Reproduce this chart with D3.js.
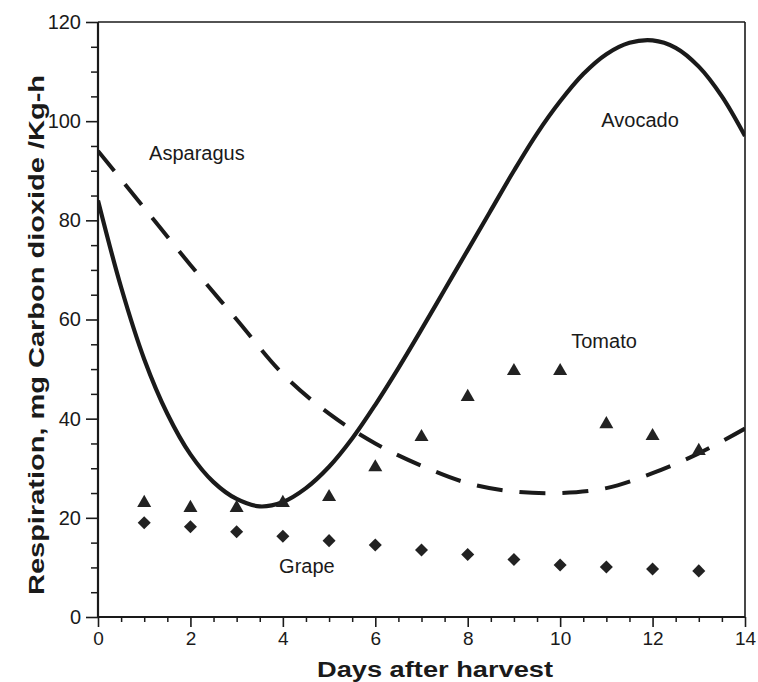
<!DOCTYPE html>
<html>
<head>
<meta charset="utf-8">
<script src="https://cdn.jsdelivr.net/npm/d3@7"></script>
<style>
  html, body { margin: 0; padding: 0; background: #fff; }
  svg { display: block; }
  text { font-family: "Liberation Sans", Arial, Helvetica, sans-serif; fill: #1a1a1a; }
</style>
</head>
<body>
<svg id="chart" width="758" height="682"></svg>
<script>
// ---- data ----
const days = [1, 2, 3, 4, 5, 6, 7, 8, 9, 10, 11, 12, 13];
const tomato = [23, 22, 22, 23, 24.2, 30.2, 36.3, 44.4, 49.6, 49.6, 38.9, 36.5, 33.5];
const grape = [19, 18.2, 17.2, 16.3, 15.4, 14.5, 13.5, 12.6, 11.6, 10.5, 10.1, 9.7, 9.3];

const avocadoDays = [0, 0.5, 1, 1.5, 2, 2.5, 3, 3.5, 4, 4.5, 5, 5.5, 6, 6.5, 7, 7.5, 8, 8.5, 9, 9.5, 10, 10.5, 11, 11.5, 12, 12.5, 13, 13.5, 14];
const avocado = [84, 66.5, 52, 41, 32.8, 27.2, 23.8, 22.3, 23.2, 26, 30.3, 36, 42.8, 50.2, 58, 66, 74, 82, 90, 97.5, 104, 109.5, 113.5, 115.8, 116.3, 114.8, 111, 105, 97];

const asparagusDays = [0, 1, 2, 3, 4, 5, 6, 7, 8, 9, 10, 11, 12, 13, 14];
const asparagus = [94, 82.5, 71, 60, 49, 41, 35, 30.5, 27, 25.3, 25, 26, 29, 33, 38];

const xTicks = [0, 2, 4, 6, 8, 10, 12, 14];
const yTicks = [0, 20, 40, 60, 80, 100, 120];

const seriesLabels = ["Asparagus", "Avocado", "Tomato", "Grape"];
const labelDays = [2.14, 11.73, 10.95, 4.52];
const labelValues = [92.2, 98.8, 54.3, 8.9];

const xTitle = "Days after harvest";
const yTitle = "Respiration, mg Carbon dioxide /Kg-h";

// ---- layout ----
const svg = d3.select("#chart");
const ink = "#1a1a1a";
const x = d3.scaleLinear().domain([0, 14]).range([98, 745]);
const y = d3.scaleLinear().domain([0, 120]).range([617, 22]);

// frame (top and right)
svg.append("line").attr("x1", x(0)).attr("x2", x(14)).attr("y1", y(120)).attr("y2", y(120))
  .attr("stroke", ink).attr("stroke-width", 1.6);
svg.append("line").attr("x1", x(14)).attr("x2", x(14)).attr("y1", y(120)).attr("y2", y(0))
  .attr("stroke", ink).attr("stroke-width", 1.6);

// minor ticks
const xMinor = d3.range(0, 14.01, 0.5).filter(d => !xTicks.includes(d));
const yMinor = d3.range(0, 120.01, 5).filter(d => !yTicks.includes(d));

const xAxisMinor = d3.axisBottom(x).tickValues(xMinor).tickSize(5).tickFormat("");
const yAxisMinor = d3.axisLeft(y).tickValues(yMinor).tickSize(7).tickFormat("");
const gxm = svg.append("g").attr("transform", `translate(0,${y(0)})`).call(xAxisMinor);
const gym = svg.append("g").attr("transform", `translate(${x(0)},0)`).call(yAxisMinor);
[gxm, gym].forEach(g => {
  g.select(".domain").remove();
  g.selectAll("line").attr("stroke", ink).attr("stroke-width", 1.5);
});

// major axes
const xAxis = d3.axisBottom(x).tickValues(xTicks).tickSize(10).tickPadding(5).tickFormat(d3.format("d"));
const yAxis = d3.axisLeft(y).tickValues(yTicks).tickSize(12).tickPadding(5).tickFormat(d3.format("d"));
const gx = svg.append("g").attr("transform", `translate(0,${y(0)})`).call(xAxis);
const gy = svg.append("g").attr("transform", `translate(${x(0)},0)`).call(yAxis);
[gx, gy].forEach(g => {
  g.select(".domain").attr("stroke", ink).attr("stroke-width", 2.2);
  g.selectAll(".tick line").attr("stroke", ink).attr("stroke-width", 1.6);
  g.selectAll(".tick text").attr("fill", ink)
    .style("font-family", '"Liberation Sans", Arial, sans-serif').style("font-size", "19px");
});
gy.selectAll(".tick text").style("font-size", "20px");
gy.select(".domain").attr("d", `M0,${y(0)}V${y(120)}`);
gx.select(".domain").attr("d", `M${x(0)},0H${x(14)}`);

// clip to plot area
svg.append("clipPath").attr("id", "plot").append("rect")
  .attr("x", x(0)).attr("y", y(120)).attr("width", x(14) - x(0)).attr("height", y(0) - y(120));

const line = d3.line().x(d => x(d[0])).y(d => y(d[1])).curve(d3.curveCatmullRom.alpha(0.5));

// asparagus (dashed)
svg.append("path")
  .datum(d3.zip(asparagusDays, asparagus))
  .attr("clip-path", "url(#plot)")
  .attr("d", line)
  .attr("fill", "none").attr("stroke", ink).attr("stroke-width", 4)
  .attr("stroke-dasharray", "26,17");

// avocado (solid)
svg.append("path")
  .datum(d3.zip(avocadoDays, avocado))
  .attr("clip-path", "url(#plot)")
  .attr("d", line)
  .attr("fill", "none").attr("stroke", ink).attr("stroke-width", 4.2);

// tomato (triangles)
const tri = d3.symbol().type(d3.symbolTriangle).size(85);
svg.append("g").selectAll("path")
  .data(d3.zip(days, tomato))
  .join("path")
  .attr("transform", d => `translate(${x(d[0])},${y(d[1])})`)
  .attr("d", tri)
  .attr("fill", "#222");

// grape (diamonds)
const dia = d3.symbol().type(d3.symbolSquare).size(85);
svg.append("g").selectAll("path")
  .data(d3.zip(days, grape))
  .join("path")
  .attr("transform", d => `translate(${x(d[0])},${y(d[1])}) rotate(45)`)
  .attr("d", dia)
  .attr("fill", "#222");

// series labels
svg.append("g").selectAll("text")
  .data(seriesLabels)
  .join("text")
  .attr("x", (d, i) => x(labelDays[i]))
  .attr("y", (d, i) => y(labelValues[i]))
  .attr("text-anchor", "middle")
  .style("font-size", "20px")
  .text(d => d);

// axis titles
svg.append("text")
  .attr("x", 435).attr("y", 677)
  .attr("text-anchor", "middle")
  .attr("textLength", 236).attr("lengthAdjust", "spacingAndGlyphs")
  .style("font-size", "22px").style("font-weight", "bold")
  .text(xTitle);

svg.append("text")
  .attr("transform", "translate(44,335) rotate(-90)")
  .attr("text-anchor", "middle")
  .attr("textLength", 520).attr("lengthAdjust", "spacingAndGlyphs")
  .style("font-size", "22px").style("font-weight", "bold")
  .text(yTitle);
</script>
</body>
</html>
